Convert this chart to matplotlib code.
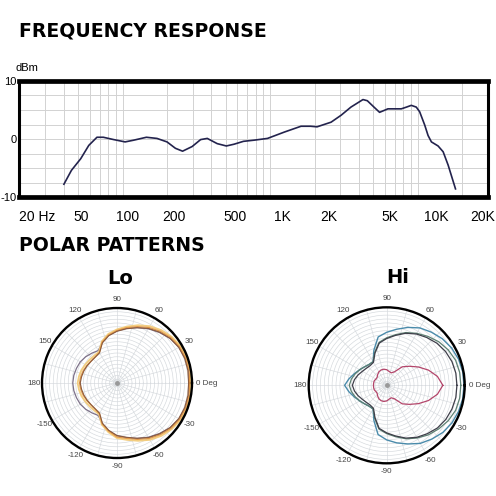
import numpy as np
import matplotlib
matplotlib.use("Agg")
import matplotlib.pyplot as plt
from matplotlib.ticker import LogLocator, NullFormatter, NullLocator

# ---- frequency response (Hz, dBm) ----
freq_hz = [40, 45, 52, 59, 67, 74, 87, 104, 119, 145, 171, 200, 228, 255,
           296, 338, 375, 438, 505, 569, 660, 779, 960, 1250, 1620, 1880,
           2080, 2590, 3030, 3530, 4260, 4560, 5060, 5520, 6290, 7750, 8400,
           9060, 9790, 10320, 11170, 11770, 12400, 13760, 14890, 16100, 18060]
level_db = [-7.8, -5.4, -3.4, -1.1, 0.3, 0.3, -0.1, -0.5, -0.2, 0.3, 0.1,
            -0.5, -1.6, -2.1, -1.3, -0.1, 0.1, -0.8, -1.2, -0.9, -0.4, -0.2,
            0.1, 1.2, 2.2, 2.2, 2.1, 2.9, 4.1, 5.5, 6.8, 6.6, 5.5, 4.6, 5.2,
            5.2, 5.5, 5.8, 5.5, 4.7, 2.4, 0.6, -0.5, -1.2, -2.2, -4.5, -8.6]

freq_labels = ["20 Hz", "50", "100", "200", "500", "1K", "2K", "5K", "10K", "20K"]
freq_label_pos = [20, 50, 100, 200, 500, 1000, 2000, 5000, 10000, 20000]
db_labels = ["-10", "", "", "", "0", "", "", "", "10"]

# ---- polar patterns, relative level (outer ring = 1), every 10 deg from 0 ----
angles_deg = list(range(0, 360, 10))

lo_grey = [0.965, 0.97, 0.97, 0.955, 0.925, 0.88, 0.835, 0.785, 0.74, 0.695,
           0.645, 0.575, 0.50, 0.52, 0.545, 0.565, 0.575, 0.585, 0.59,
           0.585, 0.575, 0.565, 0.545, 0.52, 0.50, 0.575, 0.645, 0.705, 0.74,
           0.785, 0.835, 0.88, 0.925, 0.955, 0.97, 0.97]
lo_yellow = [0.985, 0.99, 0.99, 0.98, 0.955, 0.92, 0.875, 0.82, 0.765, 0.715,
             0.665, 0.59, 0.48, 0.475, 0.48, 0.49, 0.505, 0.515, 0.525,
             0.515, 0.505, 0.49, 0.48, 0.475, 0.48, 0.59, 0.665, 0.735, 0.77,
             0.82, 0.875, 0.92, 0.955, 0.98, 0.99, 0.99]
lo_orange = [0.97, 0.975, 0.975, 0.965, 0.94, 0.90, 0.855, 0.80, 0.75, 0.70,
             0.65, 0.58, 0.47, 0.455, 0.455, 0.465, 0.48, 0.49, 0.50,
             0.49, 0.48, 0.465, 0.455, 0.455, 0.47, 0.58, 0.65, 0.72, 0.75,
             0.80, 0.855, 0.90, 0.94, 0.965, 0.975, 0.975]
lo_brown = [0.955, 0.96, 0.96, 0.95, 0.925, 0.885, 0.84, 0.785, 0.735, 0.69,
            0.64, 0.57, 0.465, 0.45, 0.45, 0.46, 0.47, 0.48, 0.49,
            0.48, 0.47, 0.46, 0.45, 0.45, 0.465, 0.57, 0.64, 0.70, 0.735,
            0.785, 0.84, 0.885, 0.925, 0.95, 0.96, 0.96]

hi_blue = [0.99, 0.99, 0.98, 0.96, 0.93, 0.89, 0.85, 0.79, 0.73, 0.68,
           0.63, 0.48, 0.35, 0.35, 0.37, 0.40, 0.44, 0.49, 0.54,
           0.49, 0.44, 0.40, 0.37, 0.35, 0.35, 0.48, 0.64, 0.70, 0.75,
           0.80, 0.86, 0.90, 0.94, 0.965, 0.98, 0.99]
hi_green = [0.95, 0.95, 0.94, 0.91, 0.87, 0.82, 0.77, 0.72, 0.66, 0.61,
            0.56, 0.45, 0.35, 0.35, 0.37, 0.40, 0.43, 0.46, 0.48,
            0.46, 0.43, 0.40, 0.37, 0.35, 0.35, 0.45, 0.57, 0.62, 0.67,
            0.73, 0.78, 0.83, 0.87, 0.91, 0.94, 0.95]
hi_dark = [0.90, 0.90, 0.89, 0.87, 0.84, 0.80, 0.76, 0.71, 0.65, 0.60,
           0.55, 0.44, 0.34, 0.33, 0.34, 0.36, 0.39, 0.42, 0.44,
           0.42, 0.39, 0.36, 0.34, 0.33, 0.34, 0.44, 0.56, 0.61, 0.66,
           0.72, 0.77, 0.81, 0.85, 0.875, 0.89, 0.90]
hi_red = [0.72, 0.66, 0.57, 0.47, 0.38, 0.31, 0.20, 0.17, 0.18, 0.20,
          0.21, 0.21, 0.20, 0.18, 0.16, 0.16, 0.17, 0.17, 0.17,
          0.17, 0.17, 0.16, 0.16, 0.18, 0.20, 0.21, 0.21, 0.20, 0.18,
          0.17, 0.20, 0.31, 0.38, 0.47, 0.57, 0.66]

polar_ticks = [0, 30, 60, 90, 120, 150, 180, 210, 240, 270, 300, 330]
polar_labels = ["0 Deg", "30", "60", "90", "120", "150", "180",
                "-150", "-120", "-90", "-60", "-30"]

thin = ["Liberation Sans", "DejaVu Sans"]
heavy = ["DejaVu Sans"]

fig = plt.figure(figsize=(4.96, 4.96), dpi=100)
fig.patch.set_facecolor("white")

# titles
fig.text(0.038, 0.938, "FREQUENCY RESPONSE", fontsize=13.6, fontweight="bold",
         family=heavy, va="center", ha="left")
fig.text(0.038, 0.505, "POLAR PATTERNS", fontsize=13.6, fontweight="bold",
         family=heavy, va="center", ha="left")
fig.text(0.243, 0.4375, "Lo", fontsize=14, fontweight="bold",
         family=heavy, va="center", ha="center")
fig.text(0.801, 0.441, "Hi", fontsize=14, fontweight="bold",
         family=heavy, va="center", ha="center")

# ---- frequency response ----
ax = fig.add_axes([0.0393, 0.6028, 0.9446, 0.2339])
ax.set_xscale("log")
ax.set_xlim(20, 30000)
ax.set_ylim(-10, 10)
ax.plot(freq_hz, level_db, color="#23234d", lw=1.2, zorder=3)

ax.xaxis.set_major_locator(LogLocator(base=10, subs=np.arange(1, 10)))
ax.xaxis.set_major_formatter(NullFormatter())
ax.xaxis.set_minor_locator(NullLocator())
ax.set_yticks(np.arange(-10, 10.1, 2.5))
ax.set_yticklabels(db_labels, family=thin, fontsize=8)
ax.tick_params(axis="both", length=0)
ax.tick_params(axis="y", pad=2)
ax.grid(True, color="#d2d2d2", lw=0.7)
for side in ["top", "bottom"]:
    ax.spines[side].set_linewidth(3.4)
for side in ["left", "right"]:
    ax.spines[side].set_linewidth(2.2)
ax.text(0.016, 1.07, "dBm", transform=ax.transAxes, family=thin,
        fontsize=8, ha="center", va="bottom")

# label axis (labels in the source sit on a slightly different scale)
ax2 = ax.twiny()
ax2.set_xscale("log")
ax2.set_xlim(20, 21530)
ax2.xaxis.tick_bottom()
ax2.set_xticks(freq_label_pos)
ax2.set_xticklabels(freq_labels, family=thin, fontsize=10)
ax2.xaxis.set_minor_locator(NullLocator())
ax2.tick_params(axis="x", length=0, pad=9)
ax2.get_xticklabels()[0].set_horizontalalignment("left")
for s in ax2.spines.values():
    s.set_visible(False)


def polar_panel(rect, curves):
    pax = fig.add_axes(rect, projection="polar")
    th = np.deg2rad(angles_deg + [360])
    for vals, col, lw in curves:
        pax.plot(th, vals + vals[:1], color=col, lw=lw)
    pax.set_ylim(0, 1)
    pax.set_yticks(np.arange(0.05, 1.0, 0.05))
    pax.set_yticklabels([])
    pax.set_xticks(np.deg2rad(np.arange(0, 360, 15)))
    pax.set_xticklabels([])
    pax.grid(True, color="#d4d8dc", lw=0.45)
    pax.spines["polar"].set_linewidth(1.7)
    pax.plot([0], [0], marker="o", ms=2.5, color="#999999")
    for deg, lab in zip(polar_ticks, polar_labels):
        if deg == 0:
            pax.text(0, 1.05, lab, ha="left", va="center", fontsize=5.8,
                     family=thin, color="#444444")
        else:
            pax.text(np.deg2rad(deg), 1.11, lab, ha="center", va="center",
                     fontsize=5.8, family=thin, color="#444444")
    return pax


polar_panel([0.0847, 0.0766, 0.3024, 0.3024],
            [(lo_grey, "#7d7189", 0.9), (lo_yellow, "#f2cd80", 1.3),
             (lo_orange, "#e39a48", 0.9), (lo_brown, "#8c5a3c", 0.8)])
polar_panel([0.6224, 0.0659, 0.3145, 0.3145],
            [(hi_blue, "#4a8bab", 1.0), (hi_green, "#5e8173", 0.9),
             (hi_dark, "#3f3f4a", 0.9), (hi_red, "#b3456a", 0.9)])

fig.savefig("out.png", dpi=100, facecolor="white")
